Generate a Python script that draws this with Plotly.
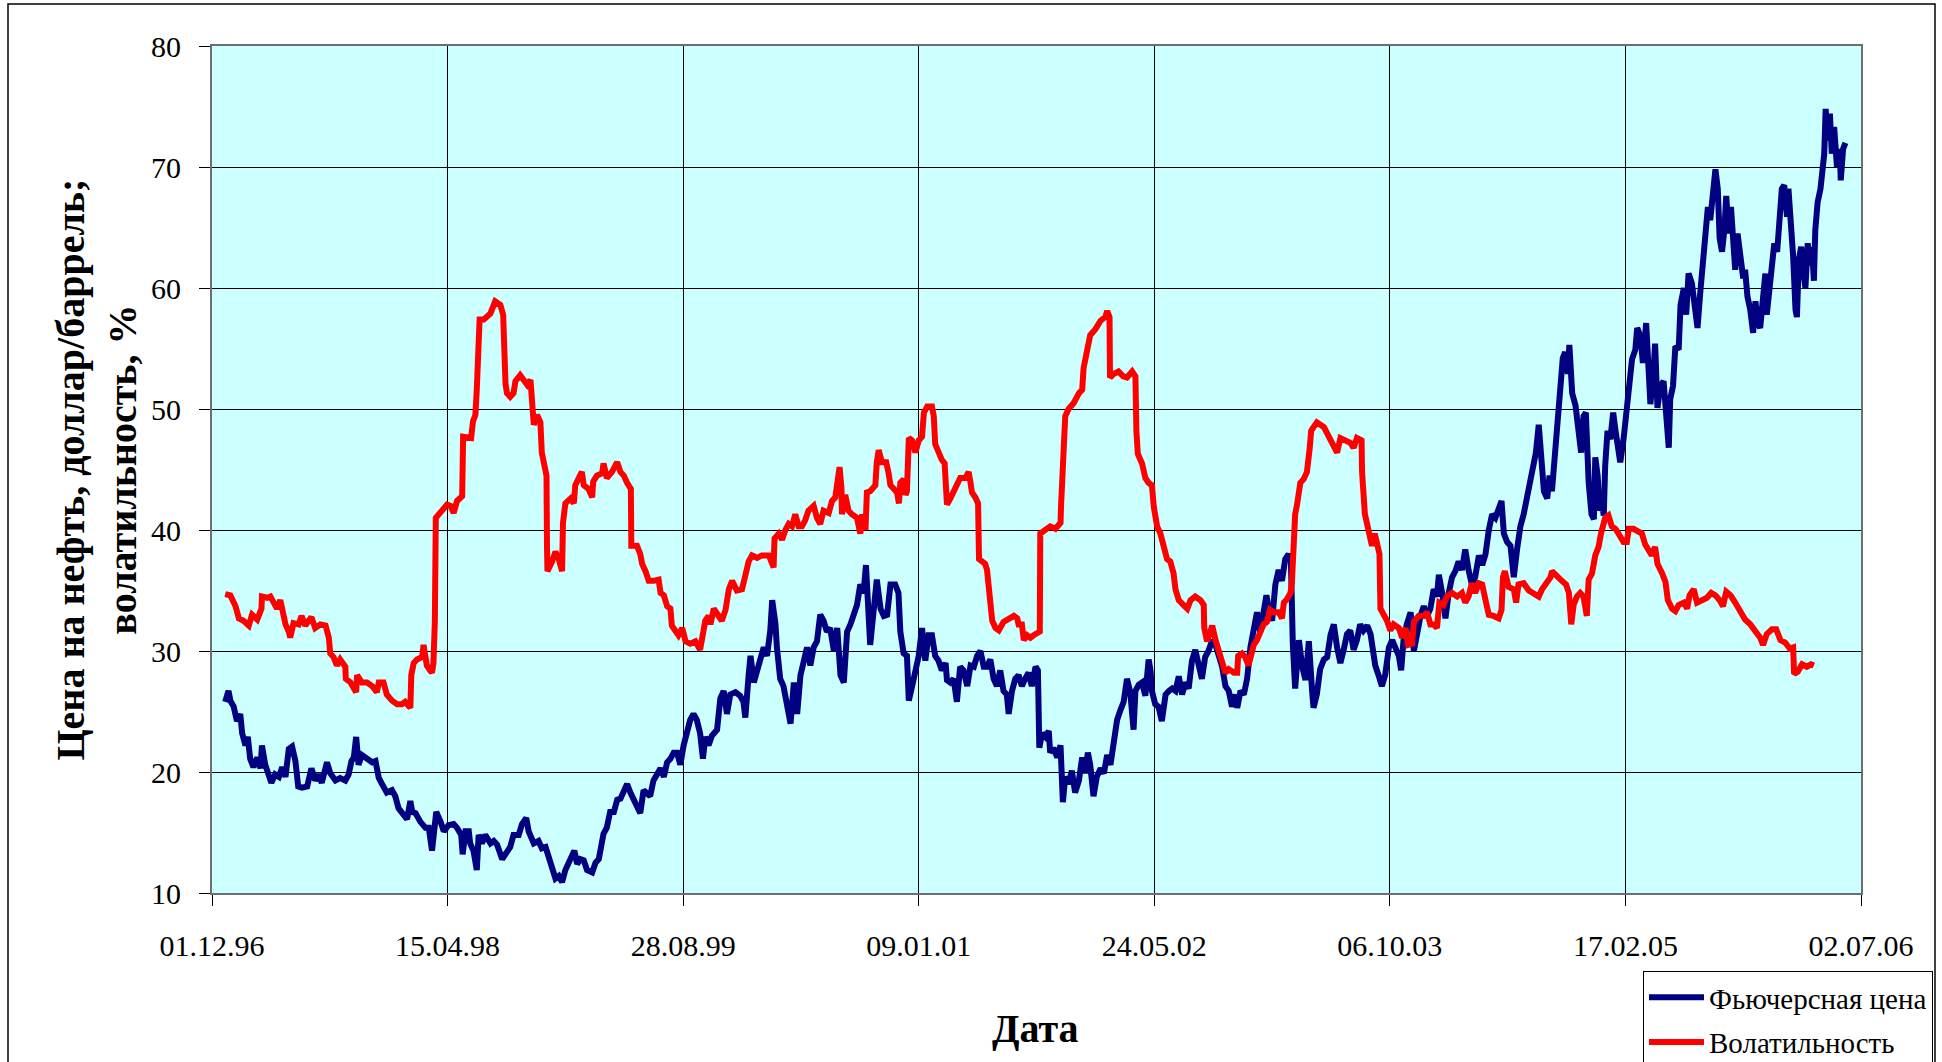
import pandas as pd
import plotly.graph_objects as go

# Date axis tick labels (500-day step)
tick_labels = ["01.12.96", "15.04.98", "28.08.99", "09.01.01",
               "24.05.02", "06.10.03", "17.02.05", "02.07.06"]
y_range = [10, 80]

series_names = ["Фьючерсная цена", "Волатильность"]

# Futures price, USD/barrel; x = days elapsed since 01.12.1996
price_days = [
    28, 35, 39, 46, 53, 60, 64, 71, 76, 81, 88, 96, 103, 106, 113, 120, 126, 134, 142, 149,
    156, 163, 170, 177, 183, 191, 202, 211, 219, 226, 233, 244, 251, 262, 272, 283, 290, 296, 301, 306,
    311, 318, 329, 340, 347, 354, 361, 371, 382, 389, 396, 407, 414, 421, 425, 432, 442, 453, 460, 467,
    473, 476, 485, 492, 502, 513, 520, 529, 532, 538, 545, 548, 555, 562, 566, 573, 580, 587, 591, 598,
    605, 616, 623, 633, 640, 651, 658, 667, 672, 683, 693, 700, 708, 715, 722, 729, 736, 743, 750, 757,
    764, 769, 775, 782, 789, 796, 807, 814, 821, 828, 831, 838, 845, 853, 860, 867, 875, 881, 888, 895,
    902, 909, 916, 923, 930, 937, 944, 952, 959, 966, 973, 980, 987, 994, 1001, 1008, 1015, 1022, 1029, 1036,
    1042, 1047, 1054, 1061, 1072, 1079, 1086, 1093, 1100, 1111, 1121, 1128, 1132, 1139, 1143, 1150, 1157, 1164, 1171, 1178,
    1185, 1189, 1196, 1199, 1206, 1213, 1220, 1228, 1235, 1242, 1249, 1256, 1263, 1270, 1277, 1284, 1291, 1298, 1305, 1312,
    1320, 1327, 1334, 1341, 1348, 1355, 1362, 1369, 1376, 1383, 1388, 1392, 1397, 1404, 1411, 1419, 1426, 1433, 1440, 1450,
    1457, 1461, 1468, 1475, 1479, 1486, 1493, 1500, 1507, 1514, 1521, 1528, 1535, 1542, 1549, 1557, 1560, 1567, 1574, 1581,
    1588, 1595, 1603, 1610, 1617, 1624, 1631, 1638, 1645, 1652, 1659, 1666, 1673, 1680, 1687, 1691, 1698, 1705, 1712, 1719,
    1726, 1733, 1740, 1748, 1753, 1756, 1762, 1769, 1776, 1779, 1786, 1794, 1801, 1806, 1811, 1818, 1825, 1832, 1840, 1847,
    1854, 1859, 1864, 1871, 1878, 1886, 1893, 1900, 1907, 1914, 1921, 1928, 1935, 1942, 1949, 1956, 1960, 1967, 1974, 1981,
    1988, 1992, 1995, 2002, 2009, 2016, 2024, 2031, 2038, 2045, 2052, 2059, 2066, 2073, 2080, 2087, 2094, 2101, 2108, 2115,
    2123, 2130, 2137, 2144, 2151, 2158, 2165, 2172, 2176, 2183, 2190, 2197, 2204, 2211, 2218, 2225, 2232, 2238, 2243, 2250,
    2257, 2264, 2271, 2278, 2285, 2290, 2294, 2299, 2307, 2314, 2321, 2328, 2335, 2338, 2345, 2352, 2360, 2367, 2374, 2381,
    2388, 2395, 2402, 2409, 2416, 2423, 2430, 2437, 2444, 2452, 2459, 2464, 2469, 2476, 2483, 2490, 2498, 2505, 2512, 2519,
    2524, 2529, 2536, 2544, 2551, 2558, 2565, 2572, 2579, 2586, 2593, 2600, 2604, 2611, 2618, 2625, 2632, 2639, 2646, 2653,
    2660, 2667, 2674, 2681, 2689, 2696, 2703, 2710, 2717, 2724, 2731, 2737, 2742, 2749, 2756, 2763, 2770, 2777, 2784, 2791,
    2798, 2805, 2810, 2816, 2822, 2827, 2834, 2839, 2844, 2850, 2855, 2862, 2867, 2872, 2878, 2881, 2887, 2894, 2901, 2906,
    2911, 2916, 2922, 2928, 2933, 2936, 2941, 2945, 2950, 2954, 2957, 2962, 2968, 2974, 2979, 2983, 2989, 2996, 3003, 3007,
    3014, 3021, 3025, 3032, 3037, 3044, 3049, 3053, 3060, 3063, 3068, 3074, 3081, 3088, 3092, 3095, 3101, 3106, 3113, 3117,
    3124, 3129, 3134, 3141, 3148, 3153, 3159, 3165, 3170, 3175, 3180, 3186, 3191, 3196, 3200, 3205, 3210, 3214, 3219, 3224,
    3228, 3233, 3238, 3244, 3250, 3254, 3259, 3265, 3271, 3276, 3281, 3286, 3292, 3297, 3300, 3306, 3311, 3316, 3322, 3327,
    3332, 3337, 3343, 3346, 3351, 3356, 3361, 3364, 3368, 3373, 3377, 3382, 3387, 3391, 3396, 3400, 3403, 3408, 3414, 3419,
    3422, 3425, 3429, 3434, 3438, 3443, 3449, 3455, 3457, 3462, 3467,
]
price_usd = [
    25.8, 26.7, 25.9, 25.4, 24.2, 24.8, 23.2, 22.2, 22.9, 21.1, 20.4, 21.2, 20.3, 22.2, 20.6, 19.6, 19.1, 19.8, 19.6, 20.4,
    19.6, 21.9, 22.1, 20.9, 18.8, 18.7, 18.8, 20.3, 19.3, 19.8, 19.1, 20.8, 19.9, 19.3, 19.5, 19.3, 19.8, 20.9, 21.2, 22.9,
    20.6, 21.4, 21.1, 20.8, 20.9, 19.5, 19.0, 18.3, 18.5, 18.0, 17.0, 16.4, 16.1, 17.6, 16.7, 16.6, 15.9, 15.4, 15.4, 13.5,
    15.4, 16.7, 15.9, 15.1, 15.6, 15.7, 15.4, 14.8, 13.2, 15.1, 15.1, 14.1, 13.5, 11.9, 14.8, 14.1, 14.8, 14.3, 14.1, 14.3,
    14.0, 12.8, 13.2, 13.8, 14.8, 14.8, 15.7, 16.2, 15.1, 14.1, 14.3, 13.7, 13.8, 12.8, 12.2, 11.2, 11.4, 10.9, 11.9, 12.5,
    13.0, 13.5, 12.4, 12.8, 12.7, 11.9, 11.7, 12.5, 12.8, 14.1, 14.9, 15.4, 16.7, 16.7, 17.7, 17.8, 18.7, 19.0, 18.3, 17.7,
    17.2, 16.6, 18.5, 18.3, 18.0, 19.3, 19.8, 20.3, 19.6, 20.8, 21.1, 21.6, 21.6, 20.6, 22.2, 23.2, 24.3, 24.8, 24.3, 23.2,
    21.1, 22.9, 22.2, 23.0, 23.5, 26.1, 26.7, 24.8, 26.4, 26.6, 26.3, 25.8, 24.5, 28.0, 29.6, 27.4, 28.4, 29.2, 30.3, 29.6,
    31.7, 34.2, 32.2, 30.3, 27.7, 27.1, 25.4, 24.0, 27.4, 24.8, 28.0, 29.3, 30.3, 28.8, 30.3, 30.8, 33.0, 32.5, 31.6, 31.9,
    30.0, 31.9, 28.0, 27.4, 31.6, 32.2, 33.2, 33.8, 35.5, 34.8, 37.1, 32.9, 30.5, 33.2, 35.9, 33.5, 32.9, 33.0, 35.5, 35.5,
    34.8, 31.6, 29.8, 29.6, 25.9, 27.1, 28.2, 29.6, 31.9, 29.2, 31.3, 31.3, 29.6, 29.2, 28.4, 29.0, 27.6, 27.4, 27.7, 25.8,
    28.7, 28.4, 27.1, 28.8, 28.7, 29.6, 30.0, 28.7, 28.7, 29.3, 27.7, 27.1, 28.4, 26.7, 26.4, 24.8, 26.7, 27.7, 28.0, 27.1,
    27.7, 28.2, 27.1, 28.7, 28.4, 22.0, 23.2, 22.9, 23.4, 21.6, 22.0, 21.2, 22.2, 17.5, 19.6, 19.0, 20.1, 18.3, 19.3, 21.2,
    19.9, 21.6, 20.6, 18.0, 19.6, 20.3, 19.9, 21.4, 20.6, 22.5, 24.3, 25.1, 25.8, 27.7, 26.6, 23.5, 26.7, 27.2, 27.4, 26.3,
    29.3, 28.4, 26.7, 25.6, 25.4, 24.2, 26.4, 26.7, 26.9, 26.7, 27.9, 26.4, 27.4, 26.9, 29.2, 30.1, 29.0, 27.7, 29.5, 30.0,
    30.9, 30.5, 29.6, 28.7, 27.1, 26.7, 25.4, 26.4, 25.3, 26.7, 26.4, 27.7, 30.3, 31.6, 33.2, 31.6, 32.9, 34.6, 33.5, 32.5,
    35.5, 36.7, 35.8, 37.6, 38.0, 37.4, 30.6, 26.9, 30.9, 28.7, 27.6, 30.8, 26.7, 25.3, 26.4, 28.5, 29.3, 29.5, 31.3, 32.2,
    30.3, 29.0, 30.1, 31.4, 31.7, 30.1, 30.9, 32.2, 31.7, 32.1, 31.4, 29.6, 28.8, 28.0, 27.1, 28.0, 30.3, 30.9, 30.1, 29.6,
    28.4, 30.9, 32.2, 33.2, 30.0, 31.6, 32.9, 33.7, 32.9, 33.5, 35.1, 34.5, 36.3, 34.8, 32.7, 34.8, 36.1, 36.6, 37.4, 36.7,
    38.4, 36.7, 35.5, 36.1, 37.9, 37.1, 38.0, 40.0, 41.3, 41.0, 41.6, 42.4, 39.7, 39.0, 38.7, 36.1, 38.4, 40.3, 41.3, 42.6,
    44.2, 45.5, 46.4, 48.7, 44.5, 43.2, 42.6, 44.5, 43.2, 46.4, 49.5, 51.6, 54.2, 54.7, 52.9, 55.3, 51.3, 50.3, 47.7, 46.4,
    49.4, 49.7, 43.9, 41.3, 40.9, 46.0, 44.5, 41.6, 42.3, 41.2, 45.3, 48.2, 47.5, 49.7, 48.2, 47.1, 45.6, 47.5, 49.7, 51.6,
    54.1, 54.9, 56.7, 56.0, 53.8, 57.1, 53.8, 50.4, 53.4, 55.4, 50.1, 51.9, 52.3, 49.0, 46.8, 50.8, 51.9, 55.2, 54.9, 58.6,
    60.0, 57.8, 61.2, 60.4, 57.8, 56.7, 59.7, 62.3, 63.7, 66.7, 65.6, 67.4, 69.8, 68.2, 64.1, 63.0, 64.8, 67.6, 64.5, 66.7,
    63.4, 61.5, 64.5, 62.6, 60.8, 61.5, 59.3, 58.2, 56.3, 58.9, 57.1, 56.7, 60.0, 61.2, 57.8, 60.0, 61.2, 63.7, 63.0, 66.3,
    68.2, 68.5, 65.9, 68.2, 65.6, 62.6, 58.2, 57.6, 62.3, 63.4, 61.5, 60.0, 63.7, 61.9, 63.4, 60.6, 64.8, 67.1, 68.2, 69.6,
    71.1, 74.8, 72.2, 74.4, 71.1, 73.3, 70.0, 71.5, 68.9, 71.5, 72.0,
]

# Volatility, %; x = days elapsed since 01.12.1996
vol_days = [
    28, 39, 50, 57, 67, 78, 85, 96, 105, 106, 117, 124, 131, 138, 145, 150, 156, 163, 166, 173,
    184, 190, 198, 211, 219, 230, 241, 248, 251, 258, 265, 272, 283, 284, 294, 306, 308, 318, 329, 340,
    350, 354, 364, 371, 382, 393, 403, 410, 421, 423, 428, 435, 446, 449, 456, 463, 467, 470, 473, 475,
    481, 492, 499, 506, 513, 520, 531, 533, 541, 550, 554, 559, 562, 565, 568, 577, 591, 601, 612, 618,
    620, 623, 626, 633, 640, 644, 654, 662, 669, 676, 679, 683, 690, 697, 700, 705, 710, 711, 712, 722,
    729, 736, 743, 745, 750, 761, 768, 771, 778, 785, 789, 799, 807, 809, 817, 828, 831, 838, 849, 860,
    867, 874, 881, 889, 890, 902, 909, 913, 920, 927, 937, 948, 952, 959, 966, 973, 976, 983, 990, 998,
    1005, 1015, 1026, 1036, 1044, 1047, 1054, 1058, 1065, 1075, 1082, 1090, 1097, 1104, 1114, 1125, 1132, 1139, 1146, 1157,
    1167, 1182, 1192, 1194, 1203, 1210, 1217, 1224, 1231, 1238, 1245, 1252, 1259, 1266, 1277, 1284, 1291, 1298, 1309, 1316,
    1323, 1332, 1336, 1337, 1344, 1351, 1358, 1369, 1376, 1380, 1387, 1390, 1397, 1408, 1411, 1415, 1422, 1431, 1436, 1440,
    1447, 1454, 1458, 1461, 1468, 1472, 1475, 1479, 1486, 1493, 1500, 1507, 1511, 1518, 1528, 1532, 1535, 1542, 1549, 1555,
    1557, 1560, 1567, 1574, 1581, 1588, 1599, 1606, 1610, 1613, 1620, 1626, 1628, 1634, 1641, 1645, 1648, 1652, 1656, 1663,
    1670, 1680, 1691, 1702, 1709, 1712, 1719, 1723, 1730, 1737, 1744, 1751, 1757, 1758, 1769, 1779, 1790, 1801, 1802, 1806,
    1811, 1818, 1829, 1840, 1847, 1850, 1857, 1864, 1875, 1886, 1896, 1900, 1905, 1906, 1914, 1924, 1934, 1942, 1953, 1960,
    1962, 1965, 1974, 1981, 1988, 1995, 1999, 2006, 2013, 2020, 2027, 2034, 2041, 2045, 2052, 2062, 2070, 2077, 2087, 2098,
    2105, 2106, 2112, 2119, 2123, 2130, 2137, 2144, 2151, 2158, 2169, 2176, 2178, 2186, 2193, 2200, 2204, 2211, 2218, 2225,
    2232, 2239, 2246, 2253, 2264, 2271, 2275, 2282, 2289, 2292, 2294, 2297, 2299, 2303, 2310, 2317, 2324, 2330, 2333, 2338,
    2345, 2360, 2367, 2377, 2388, 2395, 2406, 2416, 2423, 2430, 2440, 2441, 2447, 2452, 2455, 2462, 2468, 2473, 2478, 2480,
    2487, 2494, 2501, 2508, 2519, 2526, 2533, 2539, 2547, 2551, 2561, 2572, 2579, 2586, 2593, 2600, 2605, 2614, 2621, 2632,
    2643, 2653, 2660, 2667, 2674, 2681, 2689, 2696, 2703, 2710, 2720, 2731, 2737, 2740, 2744, 2752, 2763, 2768, 2773, 2784,
    2795, 2805, 2816, 2823, 2830, 2841, 2844, 2855, 2865, 2874, 2880, 2885, 2890, 2897, 2904, 2911, 2918, 2922, 2929, 2936,
    2943, 2948, 2957, 2964, 2971, 2979, 2986, 2996, 3003, 3007, 3017, 3028, 3035, 3042, 3049, 3056, 3063, 3068, 3078, 3085,
    3090, 3099, 3106, 3113, 3124, 3131, 3136, 3145, 3152, 3162, 3173, 3182, 3191, 3200, 3207, 3214, 3223, 3233, 3244, 3254,
    3265, 3276, 3286, 3292, 3300, 3311, 3320, 3329, 3339, 3349, 3356, 3358, 3366, 3375, 3385, 3394, 3400,
]
vol_pct = [
    34.7, 34.6, 33.7, 32.7, 32.5, 32.1, 33.0, 32.6, 33.5, 34.5, 34.4, 34.5, 34.0, 33.5, 34.2, 33.2, 32.2, 31.6, 31.1, 32.3,
    32.2, 32.9, 32.1, 32.8, 31.9, 32.2, 32.1, 31.1, 29.8, 29.5, 28.8, 29.3, 28.7, 27.7, 27.4, 26.6, 28.0, 27.4, 27.4, 27.1,
    26.6, 27.4, 27.4, 26.4, 25.9, 25.6, 25.6, 25.8, 25.3, 28.0, 29.0, 29.3, 29.5, 30.5, 28.8, 28.4, 28.2, 29.0, 32.4, 41.0,
    41.3, 41.8, 42.1, 42.0, 41.4, 42.4, 42.8, 47.7, 47.7, 47.6, 49.0, 49.5, 51.6, 56.1, 57.4, 57.4, 57.9, 58.9, 58.6, 57.8,
    54.2, 52.1, 51.3, 51.0, 51.3, 52.3, 52.8, 52.3, 52.0, 52.4, 50.0, 48.7, 49.5, 48.9, 46.4, 45.5, 44.5, 38.7, 36.6, 37.4,
    38.2, 37.6, 36.6, 40.6, 42.2, 42.6, 42.2, 43.7, 44.2, 44.8, 43.7, 43.4, 42.7, 44.0, 44.5, 44.7, 45.5, 44.3, 44.8, 45.6,
    44.8, 44.5, 43.9, 43.4, 38.7, 38.7, 38.0, 37.2, 36.6, 35.8, 35.8, 35.9, 34.8, 34.6, 33.7, 33.5, 32.1, 31.6, 31.3, 31.9,
    30.8, 30.6, 30.8, 30.1, 31.6, 32.5, 32.9, 32.2, 33.5, 32.9, 32.5, 33.4, 35.1, 35.8, 35.0, 35.1, 36.1, 37.4, 37.9, 37.7,
    37.9, 37.9, 36.9, 39.3, 39.7, 39.2, 40.0, 40.5, 40.3, 41.3, 40.3, 40.3, 40.8, 41.6, 42.0, 41.0, 40.5, 41.6, 41.4, 42.4,
    42.7, 45.2, 43.5, 41.3, 42.9, 41.6, 41.3, 41.0, 39.7, 41.3, 40.0, 43.1, 43.2, 43.7, 45.6, 46.6, 45.6, 45.6, 44.7, 43.7,
    43.4, 43.1, 42.2, 43.9, 44.2, 42.9, 43.2, 47.6, 47.4, 46.4, 47.4, 47.7, 49.7, 50.2, 50.2, 49.4, 47.1, 46.4, 45.8, 45.5,
    43.9, 42.1, 42.6, 43.1, 43.7, 44.3, 44.3, 44.8, 43.9, 43.1, 42.7, 42.2, 37.6, 37.4, 37.2, 36.7, 35.5, 35.1, 32.5, 31.9,
    31.7, 32.4, 32.7, 32.9, 32.7, 32.2, 32.2, 30.9, 31.3, 31.1, 31.3, 31.4, 31.6, 39.7, 40.0, 40.3, 40.1, 40.6, 41.9, 46.1,
    49.4, 50.0, 50.5, 51.3, 51.6, 53.4, 54.5, 56.1, 56.6, 57.3, 57.6, 58.1, 57.6, 52.6, 52.9, 53.1, 52.7, 52.6, 53.1, 52.7,
    48.2, 46.3, 45.5, 44.3, 43.9, 43.7, 41.9, 40.3, 39.7, 38.7, 37.6, 37.4, 36.4, 35.1, 34.2, 33.8, 33.5, 34.2, 34.5, 34.2,
    33.8, 31.9, 30.8, 31.6, 32.1, 30.9, 30.0, 29.2, 28.2, 28.5, 28.2, 28.2, 29.6, 29.8, 29.5, 28.8, 29.6, 30.5, 30.9, 31.6,
    32.2, 32.4, 33.4, 33.2, 33.2, 32.7, 34.0, 34.3, 34.8, 35.6, 38.0, 40.0, 41.3, 42.1, 43.9, 44.2, 44.8, 46.8, 48.2, 48.5,
    48.9, 48.5, 47.9, 47.2, 46.4, 47.6, 47.4, 47.2, 46.8, 47.6, 47.4, 44.8, 41.3, 40.5, 39.5, 38.7, 39.7, 38.7, 38.0, 33.5,
    33.0, 32.5, 31.7, 32.2, 31.9, 31.1, 31.9, 30.5, 30.6, 32.4, 32.9, 32.9, 33.2, 32.2, 32.2, 31.9, 34.0, 33.8, 34.5, 34.8,
    34.5, 34.8, 34.0, 34.5, 35.6, 34.8, 35.6, 35.5, 34.2, 33.0, 32.9, 32.7, 33.4, 36.1, 36.6, 35.3, 35.1, 34.0, 35.5, 35.6,
    35.0, 34.8, 34.5, 35.1, 35.5, 36.1, 36.6, 36.1, 35.8, 35.5, 34.8, 32.2, 33.8, 34.5, 34.8, 34.5, 32.9, 35.9, 36.4, 37.9,
    38.6, 39.7, 41.0, 41.2, 40.3, 40.1, 39.6, 39.0, 39.0, 40.1, 40.1, 39.9, 39.7, 38.8, 38.3, 37.9, 38.6, 37.2, 36.4, 35.7,
    34.2, 33.5, 33.3, 33.8, 34.0, 33.5, 34.6, 35.1, 34.0, 34.2, 34.4, 34.8, 34.6, 34.2, 33.7, 34.9, 34.6, 34.0, 33.3, 32.6,
    32.2, 31.6, 31.1, 30.5, 31.4, 31.8, 31.8, 30.9, 30.7, 30.2, 30.3, 28.1, 28.3, 28.9, 28.7, 28.9, 28.8,
]

origin = pd.Timestamp("1996-12-01")
tick_dates = pd.to_datetime(tick_labels, format="%d.%m.%y")
price_dates = origin + pd.to_timedelta(price_days, unit="D")
vol_dates = origin + pd.to_timedelta(vol_days, unit="D")

SERIF = "Liberation Serif, Times New Roman, serif"
W, H = 1942, 1062
L, R, T, B = 212, 81, 46, 169
PW, PH = W - L - R, H - T - B


def px_x(x):
    """Figure pixel column -> paper x."""
    return (x - L) / PW


def px_y(y):
    """Figure pixel row -> paper y."""
    return (H - B - y) / PH


fig = go.Figure()
fig.add_trace(go.Scatter(
    x=price_dates, y=price_usd, mode="lines", name=series_names[0],
    line=dict(color="#000080", width=6), legendgroup="price",
))
fig.add_trace(go.Scatter(
    x=vol_dates, y=vol_pct, mode="lines", name=series_names[1],
    line=dict(color="#FF0000", width=6), legendgroup="vol",
))

fig.update_layout(
    width=W, height=H,
    margin=dict(l=L, r=R, t=T, b=B, autoexpand=False),
    paper_bgcolor="white",
    plot_bgcolor="#CCFFFF",
    font=dict(family=SERIF, color="black", size=30),
    showlegend=True,
    legend=dict(
        x=px_x(1643), y=px_y(971), xanchor="left", yanchor="top",
        bgcolor="white", bordercolor="black", borderwidth=1,
        font=dict(family=SERIF, size=29, color="black"),
        itemwidth=55, tracegroupgap=4,
    ),
    shapes=[
        # outer frame of the chart
        dict(type="rect", xref="paper", yref="paper",
             x0=px_x(8), x1=px_x(1935), y0=px_y(1090), y1=px_y(4),
             line=dict(color="black", width=1.5), layer="above"),
    ],
    annotations=[
        dict(text="<b>Цена на нефть, доллар/баррель;<br>волатильность, %</b>",
             textangle=-90, xref="paper", yref="paper",
             x=px_x(96), y=0.5, xanchor="center", yanchor="middle",
             showarrow=False, font=dict(family=SERIF, size=40, color="black")),
        dict(text="<b>Дата</b>", xref="paper", yref="paper",
             x=px_x(1035), y=px_y(1028), xanchor="center", yanchor="middle",
             showarrow=False, font=dict(family=SERIF, size=40, color="black")),
    ],
)

fig.update_xaxes(
    type="date", range=[tick_dates[0], tick_dates[-1]],
    tickmode="array", tickvals=tick_dates, ticktext=tick_labels,
    ticks="outside", ticklen=11, tickcolor="black", tickwidth=1,
    showgrid=True, gridcolor="black", gridwidth=1,
    showline=True, linecolor="#6e6e6e", linewidth=2, mirror=True,
    zeroline=False, tickfont=dict(family=SERIF, size=30, color="black"),
    ticklabelstandoff=14,
)
fig.update_yaxes(
    range=y_range, dtick=10, tick0=0,
    ticks="outside", ticklen=11, tickcolor="black", tickwidth=1,
    showgrid=True, gridcolor="black", gridwidth=1,
    showline=True, linecolor="#6e6e6e", linewidth=2, mirror=True,
    zeroline=False, tickfont=dict(family=SERIF, size=30, color="black"),
    ticklabelstandoff=12,
)

fig.write_html("out.html")
